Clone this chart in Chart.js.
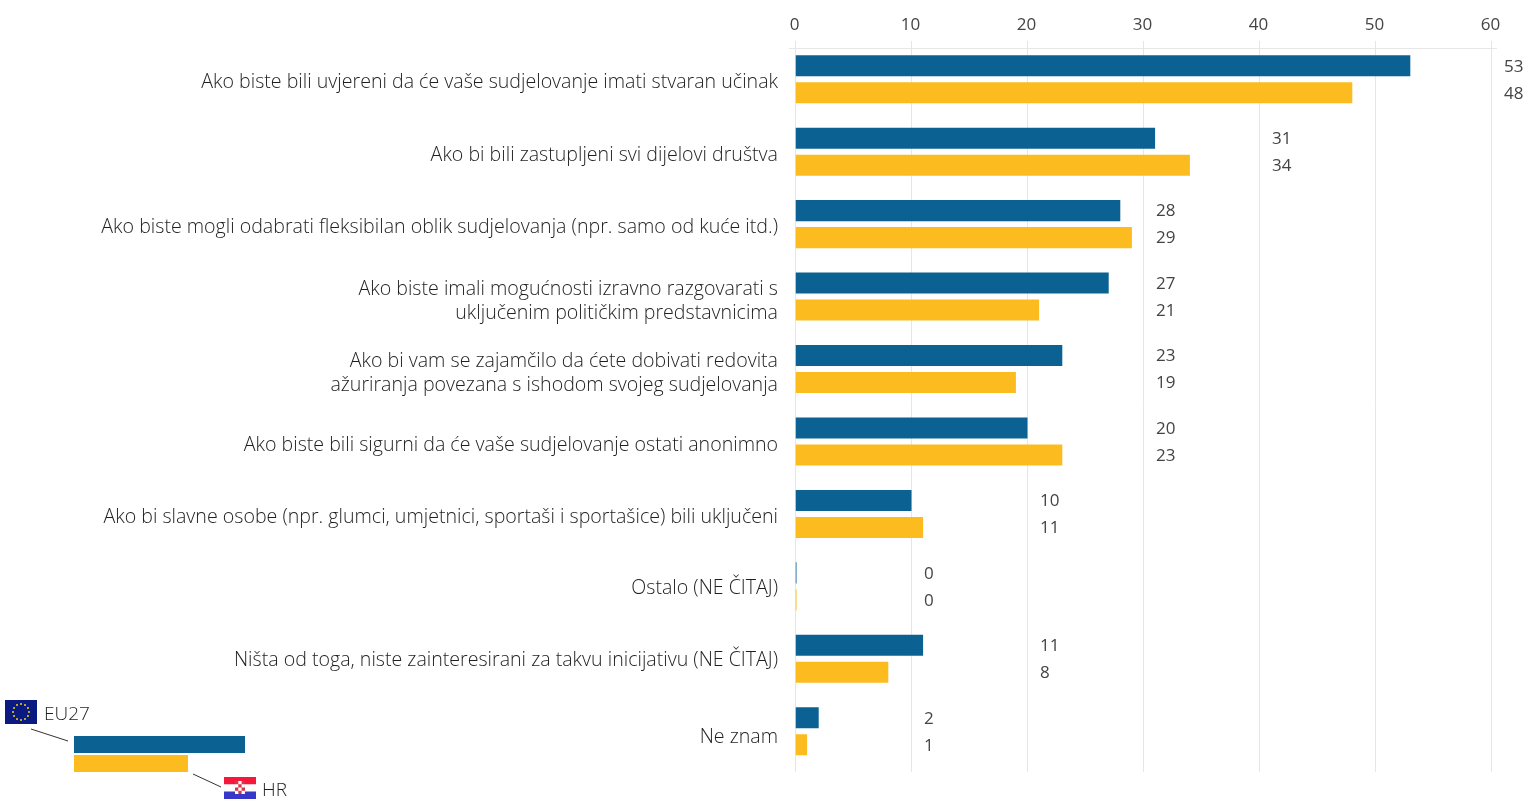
<!DOCTYPE html>
<html><head><meta charset="utf-8">
<script src="https://cdn.jsdelivr.net/npm/chart.js@4"></script>
<style>html,body{margin:0;padding:0;background:#fff}#w{position:relative;width:1523px;height:799px}</style>
</head><body><div id="w"><canvas id="c" width="1523" height="799"></canvas></div>
<script>
const categories = [
  "Ako biste bili uvjereni da će vaše sudjelovanje imati stvaran učinak",
  "Ako bi bili zastupljeni svi dijelovi društva",
  "Ako biste mogli odabrati fleksibilan oblik sudjelovanja (npr. samo od kuće itd.)",
  ["Ako biste imali mogućnosti izravno razgovarati s", "uključenim političkim predstavnicima"],
  ["Ako bi vam se zajamčilo da ćete dobivati redovita", "ažuriranja povezana s ishodom svojeg sudjelovanja"],
  "Ako biste bili sigurni da će vaše sudjelovanje ostati anonimno",
  "Ako bi slavne osobe (npr. glumci, umjetnici, sportaši i sportašice) bili uključeni",
  "Ostalo (NE ČITAJ)",
  "Ništa od toga, niste zainteresirani za takvu inicijativu (NE ČITAJ)",
  "Ne znam"
];
const eu27 = [53, 31, 28, 27, 23, 20, 10, 0, 11, 2];
const hr   = [48, 34, 29, 21, 19, 23, 11, 0, 8, 1];
const xTicks = [0, 10, 20, 30, 40, 50, 60];
const BLUE = "#0b6292", YEL = "#fcbb1f", TXT = "#1f1f1f", NUM = "#444444", GRID = "#e6e6e6";
const FONT = "Open Sans";
const labelNudge = [3, 4, 3, 5, 4.5, 4, 3.5, 2, 1.5, 6.5];

const deco = {
  id: "deco",
  beforeDraw(ch) {
    const items = ch.scales.y.getLabelItems(ch.chartArea);
    if (!items._shifted) {
      items.forEach((it, i) => { const t = it.options.translation; it.options.translation = [t[0], t[1] + labelNudge[i]]; });
      items._shifted = true;
    }
    const xi = ch.scales.x.getLabelItems(ch.chartArea);
    if (!xi._shifted) {
      xi.forEach(it => { const t = it.options.translation; it.options.translation = [t[0] - 1, t[1]]; });
      xi._shifted = true;
    }
  },
  beforeDatasetsDraw(ch) {
    const c = ch.ctx, x = ch.scales.x;
    c.save();
    c.strokeStyle = GRID; c.lineWidth = 1;
    xTicks.forEach(t => { const p = Math.floor(x.getPixelForValue(t)) + .5;
      c.beginPath(); c.moveTo(p, 41); c.lineTo(p, 772); c.stroke(); });
    c.beginPath(); c.moveTo(789, 48.5); c.lineTo(1497, 48.5); c.stroke();
    c.restore();
  },
  afterDatasetsDraw(ch) {
    const c = ch.ctx, x = ch.scales.x;
    c.save();
    c.font = `400 17px "${FONT}"`; c.fillStyle = NUM; c.textAlign = "left"; c.textBaseline = "middle";
    const m0 = ch.getDatasetMeta(0).data, m1 = ch.getDatasetMeta(1).data;
    eu27.forEach((v, i) => {
      const lx = x.getPixelForValue(Math.floor(Math.max(v, hr[i]) / 10) * 10) + 128.5;
      c.fillText(String(v), lx, m0[i].y + 1);
      c.fillText(String(hr[i]), lx, m1[i].y + 1);
    });
    // legend key
    c.fillStyle = BLUE; c.fillRect(74, 736, 171, 17);
    c.fillStyle = YEL; c.fillRect(74, 755, 114, 17);
    c.strokeStyle = "#333"; c.lineWidth = 1;
    c.beginPath(); c.moveTo(31, 729); c.lineTo(68, 741); c.moveTo(193, 774); c.lineTo(221, 787); c.stroke();
    // EU flag
    c.fillStyle = "#0a1a80"; c.fillRect(5, 700, 32, 24);
    c.fillStyle = "#f2d21c";
    for (let k = 0; k < 12; k++) { const a = k * Math.PI / 6;
      c.beginPath(); c.arc(21 + 8 * Math.cos(a), 712 + 8 * Math.sin(a), 1, 0, 7); c.fill(); }
    // HR flag
    c.fillStyle = "#f5173c"; c.fillRect(224, 777, 32, 7.5);
    c.fillStyle = "#fff"; c.fillRect(224, 784.5, 32, 7);
    c.fillStyle = "#3737c8"; c.fillRect(224, 791.5, 32, 7.5);
    c.fillStyle = "#d8364a"; c.fillRect(235, 781, 10, 13);
    c.fillStyle = "#fff";
    for (let r = 0; r < 4; r++) for (let q = 0; q < 3; q++) if ((r + q) % 2) c.fillRect(235 + q * 3.3, 781 + r * 3.25, 3.3, 3.25);
    c.font = `300 19px "${FONT}"`; c.fillStyle = TXT; c.textAlign = "left";
    c.fillText("EU27", 44, 714.5);
    c.fillText("HR", 262, 790.5);
    c.restore();
  }
};

new Chart(document.getElementById("c"), {
  type: "bar",
  data: { labels: categories, datasets: [
    { label: "EU27", data: eu27, backgroundColor: BLUE, categoryPercentage: 0.745, barPercentage: 0.78, minBarLength: 1 },
    { label: "HR", data: hr, backgroundColor: YEL, categoryPercentage: 0.745, barPercentage: 0.78, minBarLength: 1 }
  ]},
  options: {
    indexAxis: "y", responsive: false, animation: false,
    layout: { padding: { right: 31.5, bottom: 31.5 } },
    plugins: { legend: { display: false }, tooltip: { enabled: false } },
    scales: {
      x: { position: "top", min: 0, max: 60, afterBuildTicks(s){ s.ticks = xTicks.map(v => ({value:v})); },
        grid: { display: false }, border: { display: false },
        afterFit(s){ s.height = 43; },
        ticks: { color: NUM, font: { family: FONT, size: 17, weight: 400 }, padding: 0, maxRotation: 0 } },
      y: { grid: { display: false }, border: { display: false },
        afterFit(s){ s.width = 795.5; },
        ticks: { color: TXT, font: { family: FONT, size: 19.6, weight: 300, lineHeight: 1.21 }, padding: 9.5, autoSkip: false } }
    }
  },
  plugins: [deco]
});
</script></body></html>
